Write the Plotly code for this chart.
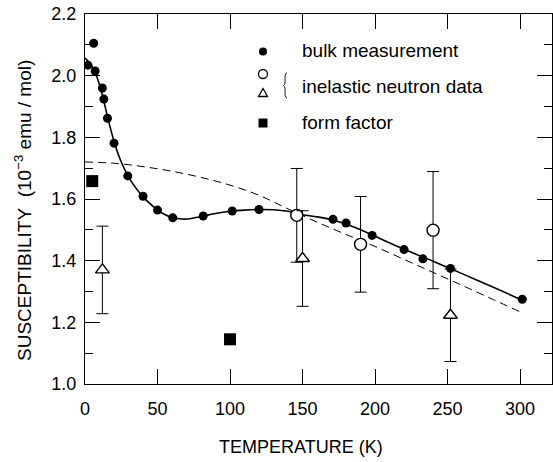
import plotly.graph_objects as go

# ---- data ----
bulk_T = [2, 6, 7, 12, 13, 15.5, 20, 29.5, 40, 50, 60.5, 81.5, 101.5, 120, 171, 180, 198, 220, 233, 252, 301.5]
bulk_chi = [2.034, 2.105, 2.015, 1.960, 1.924, 1.862, 1.781, 1.675, 1.609, 1.564, 1.539, 1.545, 1.561, 1.566,
            1.534, 1.522, 1.482, 1.436, 1.406, 1.375, 1.275]

circ_T = [146, 190, 240]
circ_chi = [1.547, 1.453, 1.499]
circ_err = [0.152, 0.155, 0.19]

tri_T = [12, 150, 252]
tri_chi = [1.370, 1.407, 1.223]
tri_err = [0.142, 0.155, 0.150]

ff_T = [5, 100]
ff_chi = [1.658, 1.145]

fit_T = [0, 3, 6, 9, 12, 15, 18, 21, 25, 30, 35, 40, 45, 50, 55, 60, 65, 70, 80, 90, 100, 110, 120, 130,
         140, 150, 160, 170, 180, 190, 200, 220, 240, 260, 280, 300]
fit_chi = [2.057, 2.042, 2.020, 1.985, 1.937, 1.877, 1.821, 1.772, 1.720, 1.672, 1.636, 1.607, 1.584, 1.564,
           1.550, 1.540, 1.536, 1.535, 1.543, 1.553, 1.560, 1.564, 1.566, 1.565, 1.560, 1.549, 1.542, 1.533,
           1.519, 1.500, 1.479, 1.437, 1.398, 1.358, 1.317, 1.275]

calc_T = [0, 20, 40, 60, 80, 100, 120, 140, 160, 180, 200, 220, 240, 260, 280, 300]
calc_chi = [1.720, 1.716, 1.705, 1.690, 1.670, 1.645, 1.612, 1.568, 1.525, 1.485, 1.446, 1.404, 1.362,
            1.320, 1.277, 1.234]

x_ticks = [0, 50, 100, 150, 200, 250, 300]
y_ticks = [1.0, 1.2, 1.4, 1.6, 1.8, 2.0, 2.2]

FONT = "Liberation Sans, Arial, Helvetica, sans-serif"
W, H = 553, 462
ML, MR, MT, MB = 85, 1, 14, 78
PW, PH = W - ML - MR, H - MT - MB


def px(xp):
    return (xp - ML) / PW


def py(yp):
    return (H - MB - yp) / PH


fig = go.Figure()

fig.add_trace(go.Scatter(x=calc_T, y=calc_chi, mode="lines",
                         line=dict(color="black", width=1, dash="8px,5px", shape="spline"),
                         hoverinfo="skip"))
fig.add_trace(go.Scatter(x=fit_T, y=fit_chi, mode="lines",
                         line=dict(color="black", width=1.6, shape="spline", smoothing=0.8),
                         hoverinfo="skip"))
fig.add_trace(go.Scatter(x=circ_T, y=circ_chi, mode="markers",
                         marker=dict(symbol="circle", size=12, color="white",
                                     line=dict(color="black", width=1.4)),
                         error_y=dict(type="data", array=circ_err, color="black", thickness=1, width=6)))
fig.add_trace(go.Scatter(x=tri_T, y=tri_chi, mode="markers",
                         marker=dict(symbol="triangle-up", size=12, color="white",
                                     line=dict(color="black", width=1.4)),
                         error_y=dict(type="data", array=tri_err, color="black", thickness=1, width=6)))
fig.add_trace(go.Scatter(x=ff_T, y=ff_chi, mode="markers",
                         marker=dict(symbol="square", size=12, color="black")))
fig.add_trace(go.Scatter(x=bulk_T, y=bulk_chi, mode="markers",
                         marker=dict(symbol="circle", size=9, color="black")))

# ---- legend drawn by hand ----
shapes = []
anns = []
lx = 263


def circ(xc, yc, d, fill, lw):
    return dict(type="circle", xref="paper", yref="paper",
                x0=px(xc - d / 2), x1=px(xc + d / 2), y0=py(yc + d / 2), y1=py(yc - d / 2),
                fillcolor=fill, line=dict(color="black", width=lw))


shapes.append(circ(lx, 51.5, 8, "black", 0))
shapes.append(circ(lx, 74, 9, "white", 1.3))
# triangle
t = 9
shapes.append(dict(type="path", xref="paper", yref="paper",
                   path=f"M {px(lx - t/2)} {py(96.5)} L {px(lx + t/2)} {py(96.5)} L {px(lx)} {py(88.5)} Z",
                   fillcolor="white", line=dict(color="black", width=1.3)))
# square
s = 9
shapes.append(dict(type="rect", xref="paper", yref="paper",
                   x0=px(lx - s/2), x1=px(lx + s/2), y0=py(123 + s/2), y1=py(123 - s/2),
                   fillcolor="black", line=dict(width=0)))
# brace
bx = 285
shapes.append(dict(type="path", xref="paper", yref="paper",
                   path=(f"M {px(bx+2)} {py(73)} C {px(bx-2)} {py(74)} {px(bx+2)} {py(84)} {px(bx-1.5)} {py(85.5)} "
                         f"C {px(bx+2)} {py(87)} {px(bx-2)} {py(97)} {px(bx+2)} {py(98)}"),
                   line=dict(color="black", width=0.9)))

for txt, yy in [("bulk measurement", 51), ("inelastic neutron data", 86), ("form factor", 122)]:
    anns.append(dict(text=txt, xref="paper", yref="paper", x=px(300), y=py(yy),
                     xanchor="left", yanchor="middle", showarrow=False,
                     font=dict(family=FONT, size=19, color="black")))

anns.append(dict(text="TEMPERATURE (K)", xref="paper", yref="paper", x=px(301), y=py(447),
                 xanchor="center", yanchor="middle", showarrow=False,
                 font=dict(family=FONT, size=18, color="black")))
anns.append(dict(text="SUSCEPTIBILITY\u00a0\u00a0(10<sup>\u22123</sup>\u00a0emu\u00a0/\u00a0mol)",
                 xref="paper", yref="paper", x=px(23), y=py(211), textangle=-90,
                 xanchor="center", yanchor="middle", showarrow=False,
                 font=dict(family=FONT, size=19, color="black")))

fig.update_layout(
    width=W, height=H,
    margin=dict(l=ML, r=MR, t=MT, b=MB, pad=0),
    paper_bgcolor="white", plot_bgcolor="white",
    showlegend=False,
    shapes=shapes, annotations=anns,
    font=dict(family=FONT, size=18, color="black"),
)
fig.update_xaxes(range=[0, 322], tickvals=x_ticks, ticks="inside", ticklen=15, tickwidth=1,
                 tickcolor="black", showline=True, linecolor="black", linewidth=1, mirror="ticks",
                 showgrid=False, zeroline=False, tickfont=dict(family=FONT, size=18, color="black"),
                 ticklabelstandoff=8)
fig.update_yaxes(range=[1.0, 2.2], tickvals=y_ticks, tickformat=".1f", ticks="inside", ticklen=15,
                 tickwidth=1, tickcolor="black", showline=True, linecolor="black", linewidth=1,
                 mirror="ticks", showgrid=False, zeroline=False,
                 minor=dict(dtick=0.1, ticks="inside", ticklen=8, tickcolor="black", showgrid=False),
                 tickfont=dict(family=FONT, size=18, color="black"), ticklabelstandoff=4)

fig.write_html("out.html")
